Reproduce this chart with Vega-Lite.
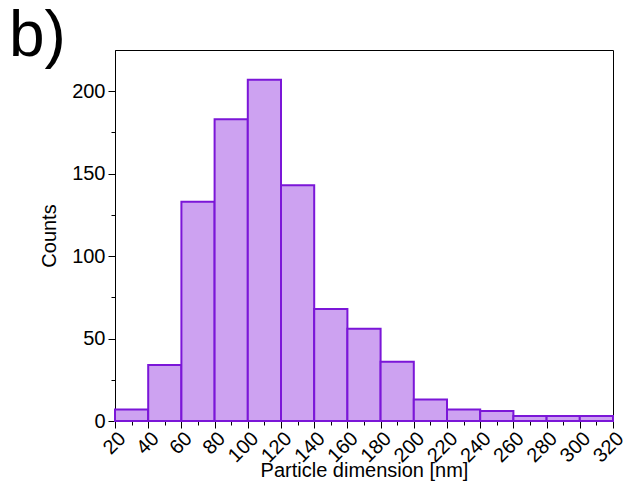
{
  "$schema": "https://vega.github.io/schema/vega-lite/v6.json",
  "width": 498,
  "height": 371,
  "autosize": "none",
  "padding": {"left": 115, "top": 50, "right": 13, "bottom": 60},
  "background": "white",
  "title": {
    "text": "b)",
    "anchor": "start",
    "frame": "group",
    "font": "Liberation Sans",
    "fontSize": 64,
    "fontWeight": "normal",
    "color": "black",
    "baseline": "alphabetic",
    "dx": -106,
    "offset": -70
  },
  "data": {
    "values": [
      {"start": 20, "end": 40, "count": 7},
      {"start": 40, "end": 60, "count": 34},
      {"start": 60, "end": 80, "count": 133},
      {"start": 80, "end": 100, "count": 183},
      {"start": 100, "end": 120, "count": 207},
      {"start": 120, "end": 140, "count": 143},
      {"start": 140, "end": 160, "count": 68},
      {"start": 160, "end": 180, "count": 56},
      {"start": 180, "end": 200, "count": 36},
      {"start": 200, "end": 220, "count": 13},
      {"start": 220, "end": 240, "count": 7},
      {"start": 240, "end": 260, "count": 6},
      {"start": 260, "end": 280, "count": 3},
      {"start": 280, "end": 300, "count": 3},
      {"start": 300, "end": 320, "count": 3}
    ]
  },
  "mark": {"type": "bar", "fill": "#cda2f1", "stroke": "#7b16d8", "strokeWidth": 2},
  "encoding": {
    "x": {
      "field": "start",
      "type": "quantitative",
      "scale": {"domain": [20, 320], "nice": false, "zero": false},
      "title": "Particle dimension [nm]",
      "axis": {
        "values": [20, 30, 40, 50, 60, 70, 80, 90, 100, 110, 120, 130, 140, 150, 160, 170, 180, 190, 200, 210, 220, 230, 240, 250, 260, 270, 280, 290, 300, 310, 320],
        "labelExpr": "datum.value % 20 === 0 ? datum.label : ''",
        "tickSize": {"condition": {"test": "datum.value % 20 !== 0", "value": 4}, "value": 7},
        "labelAngle": -45,
        "labelAlign": "right",
        "labelBaseline": "top",
        "labelPadding": 0,
        "labelOverlap": false,
        "titlePadding": -5
      }
    },
    "x2": {"field": "end"},
    "y": {
      "field": "count",
      "type": "quantitative",
      "scale": {"domain": [0, 225], "nice": false},
      "title": "Counts",
      "axis": {
        "values": [0, 25, 50, 75, 100, 125, 150, 175, 200],
        "labelExpr": "datum.value % 50 === 0 ? datum.label : ''",
        "tickSize": {"condition": {"test": "datum.value % 50 !== 0", "value": 4}, "value": 7},
        "labelPadding": 3,
        "labelOverlap": false,
        "titlePadding": 12
      }
    },
    "y2": {"datum": 0}
  },
  "config": {
    "view": {"stroke": "black", "strokeWidth": 1},
    "axis": {
      "grid": false,
      "domainColor": "black",
      "domainWidth": 1,
      "tickColor": "black",
      "tickWidth": 1,
      "labelColor": "black",
      "labelFont": "Liberation Sans",
      "labelFontSize": 20,
      "titleColor": "black",
      "titleFont": "Liberation Sans",
      "titleFontSize": 20,
      "titleFontWeight": "normal"
    }
  }
}
